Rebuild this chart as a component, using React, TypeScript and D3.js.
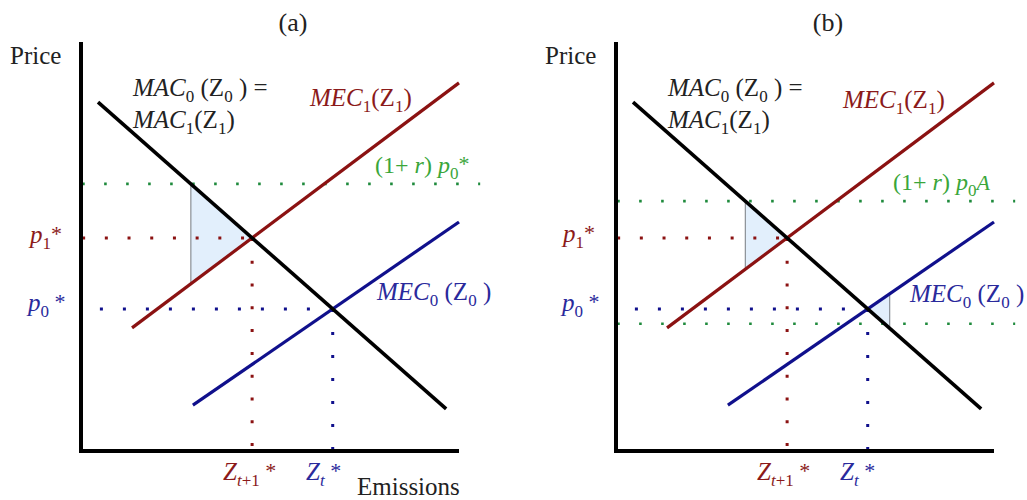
import React from 'react';
import * as d3 from 'd3';

type Pt = [number, number];

// curve endpoints, in (emissions, price) units 0..100
const macCurve: Pt[] = [[4.5, 85.3], [96.6, 10.3]];
const mec1Curve: Pt[] = [[13.5, 30.1], [100, 90]];
const mec0Curve: Pt[] = [[29.6, 11.2], [100, 56]];

const panelNames = ['(a)', '(b)'];
// green dotted price levels: panel a has one, panel b has two
const greenLevelsA = [65.3];
const greenLevelsB = [61.1, 31.1];
const greenEnd = 105.6;
const p0DotStart = 5;
const triRightB = 72.4; // right edge of the small triangle in (b)

const W = 1027;
const H = 500;
const panelShift = 535;

const FONT = "'Liberation Serif', 'Times New Roman', Times, serif";
const RED = '#8b1212';
const BLUE = '#10108c';
const GREEN_DOT = '#1e8a3c';
const TXT_RED = '#8b1a1a';
const TXT_BLUE = '#2a2a9c';
const TXT_GREEN = '#3aa63a';
const TXT_DARK = '#222';

const x = d3.scaleLinear().domain([0, 100]).range([81, 459]);
const y = d3.scaleLinear().domain([0, 100]).range([451, 42]);

const slope = (c: Pt[]) => (c[1][1] - c[0][1]) / (c[1][0] - c[0][0]);
const yAt = (c: Pt[], vx: number) => c[0][1] + slope(c) * (vx - c[0][0]);
const xAt = (c: Pt[], vy: number) => c[0][0] + (vy - c[0][1]) / slope(c);
const cross = (a: Pt[], b: Pt[]): Pt => {
  const ma = slope(a), mb = slope(b);
  const vx = (b[0][1] - a[0][1] + ma * a[0][0] - mb * b[0][0]) / (ma - mb);
  return [vx, yAt(a, vx)];
};

const line = d3.line<Pt>().x((d) => x(d[0])).y((d) => y(d[1]));

type Seg = { t: string; i?: boolean; pos?: 'sub' | 'sup'; size?: number };

const Rich = ({ segs, tx, ty, fill, size = 25 }: { segs: Seg[]; tx: number; ty: number; fill: string; size?: number }) => {
  let cur = 0;
  return (
    <text x={tx} y={ty} fill={fill} style={{ fontFamily: FONT, fontSize: size }}>
      {segs.map((s, k) => {
        const target = s.pos === 'sub' ? 6 : s.pos === 'sup' ? -2 : 0;
        const dy = target - cur;
        cur = target;
        const fs = s.size ?? (s.pos === 'sub' ? 17 : s.pos === 'sup' ? 22 : size);
        return (
          <tspan key={k} dy={dy} style={{ fontStyle: s.i ? 'italic' : 'normal', fontSize: fs }}>
            {s.t}
          </tspan>
        );
      })}
    </text>
  );
};

const Panel = ({ idx }: { idx: number }) => {
  const isB = idx === 1;
  const greens = isB ? greenLevelsB : greenLevelsA;
  const c1 = cross(macCurve, mec1Curve);
  const c0 = cross(macCurve, mec0Curve);

  const topX = xAt(macCurve, greens[0]);
  const tri1: Pt[] = [[topX, greens[0]], c1, [topX, yAt(mec1Curve, topX)]];
  const tris: Pt[][] = [tri1];
  if (isB) {
    tris.push([c0, [triRightB, yAt(mec0Curve, triRightB)], [triRightB, yAt(macCurve, triRightB)]]);
  }

  const dotted = (pts: Pt[], color: string, w: number, dash: string, k: string) => (
    <path key={k} d={line(pts) ?? ''} stroke={color} strokeWidth={w} strokeDasharray={dash} fill="none" />
  );

  const plain = { fontFamily: FONT, fontSize: 25 };

  return (
    <g transform={`translate(${idx * panelShift},0)`}>
      {tris.map((t, k) => (
        <path key={k} d={(line(t) ?? '') + 'Z'} fill="#e2effc" stroke="#8a8f96" strokeWidth={1.2} />
      ))}

      {greens.map((g, k) => dotted([[0.3, g], [greenEnd, g]], GREEN_DOT, 2.6, '2.6 19.4', 'g' + k))}
      {dotted([[0.3, c1[1]], c1], RED, 3, '3 19.7', 'p1h')}
      {dotted([c1, [c1[0], 0]], RED, 3, '3 19.8', 'p1v')}
      {dotted([[p0DotStart, c0[1]], c0], BLUE, 3, '3 20', 'p0h')}
      {dotted([c0, [c0[0], 0]], BLUE, 3, '3 20', 'p0v')}

      <path d={line(mec1Curve) ?? ''} stroke={RED} strokeWidth={3.2} fill="none" />
      <path d={line(mec0Curve) ?? ''} stroke={BLUE} strokeWidth={3.2} fill="none" />
      <path d={line(macCurve) ?? ''} stroke="#000" strokeWidth={3.6} fill="none" />

      <path d={line([[0, 100], [0, 0], [100, 0]]) ?? ''} stroke="#000" strokeWidth={4} fill="none" />

      <text x={293} y={31} textAnchor="middle" fill={TXT_DARK} style={{ fontFamily: FONT, fontSize: 26 }}>
        {panelNames[idx]}
      </text>
      <text x={10} y={64} fill={TXT_DARK} style={plain}>Price</text>

      <Rich tx={133} ty={96} fill={TXT_DARK} segs={[{ t: 'MAC', i: true }, { t: '0', pos: 'sub' }, { t: ' (Z' }, { t: '0', pos: 'sub' }, { t: ' ) =' }]} />
      <Rich tx={133} ty={128} fill={TXT_DARK} segs={[{ t: 'MAC', i: true }, { t: '1', pos: 'sub' }, { t: '(Z' }, { t: '1', pos: 'sub' }, { t: ')' }]} />
      <Rich tx={isB ? 308 : 310} ty={isB ? 108 : 106} fill={TXT_RED} segs={[{ t: 'MEC', i: true }, { t: '1', pos: 'sub' }, { t: '(Z' }, { t: '1', pos: 'sub' }, { t: ')' }]} />
      {isB ? (
        <Rich tx={358} ty={190} fill={TXT_GREEN} size={24} segs={[{ t: '(1+ ' }, { t: 'r', i: true }, { t: ') ' }, { t: 'p', i: true }, { t: '0', pos: 'sub' }, { t: 'A', i: true, size: 22 }]} />
      ) : (
        <Rich tx={375} ty={173} fill={TXT_GREEN} size={24} segs={[{ t: '(1+ ' }, { t: 'r', i: true }, { t: ') ' }, { t: 'p', i: true }, { t: '0', pos: 'sub' }, { t: '*', pos: 'sup' }]} />
      )}
      <Rich tx={isB ? 28 : 30} ty={isB ? 242 : 243} fill={TXT_RED} segs={[{ t: 'p', i: true }, { t: '1', pos: 'sub' }, { t: '*', pos: 'sup' }]} />
      <Rich tx={isB ? 27 : 28} ty={311} fill={TXT_BLUE} segs={[{ t: 'p', i: true }, { t: '0', pos: 'sub' }, { t: ' *', pos: 'sup' }]} />
      <Rich tx={isB ? 375 : 377} ty={isB ? 302 : 300} fill={TXT_BLUE} segs={[{ t: 'MEC', i: true }, { t: '0', pos: 'sub' }, { t: ' (Z' }, { t: '0', pos: 'sub' }, { t: ' )' }]} />
      <Rich tx={isB ? 222 : 223} ty={480} fill={TXT_RED} segs={[{ t: 'Z', i: true }, { t: 't', i: true, pos: 'sub' }, { t: '+1', pos: 'sub' }, { t: ' *', pos: 'sup' }]} />
      <Rich tx={isB ? 305 : 306} ty={480} fill={TXT_BLUE} segs={[{ t: 'Z', i: true }, { t: 't', i: true, pos: 'sub' }, { t: ' *', pos: 'sup' }]} />
      {!isB && (
        <text x={357} y={495} fill={TXT_DARK} style={plain}>Emissions</text>
      )}
    </g>
  );
};

export default function App() {
  return (
    <svg width={W} height={H} style={{ position: 'absolute', left: 0, top: 0, background: '#fff' }}>
      {panelNames.map((_, i) => (
        <Panel key={i} idx={i} />
      ))}
    </svg>
  );
}
